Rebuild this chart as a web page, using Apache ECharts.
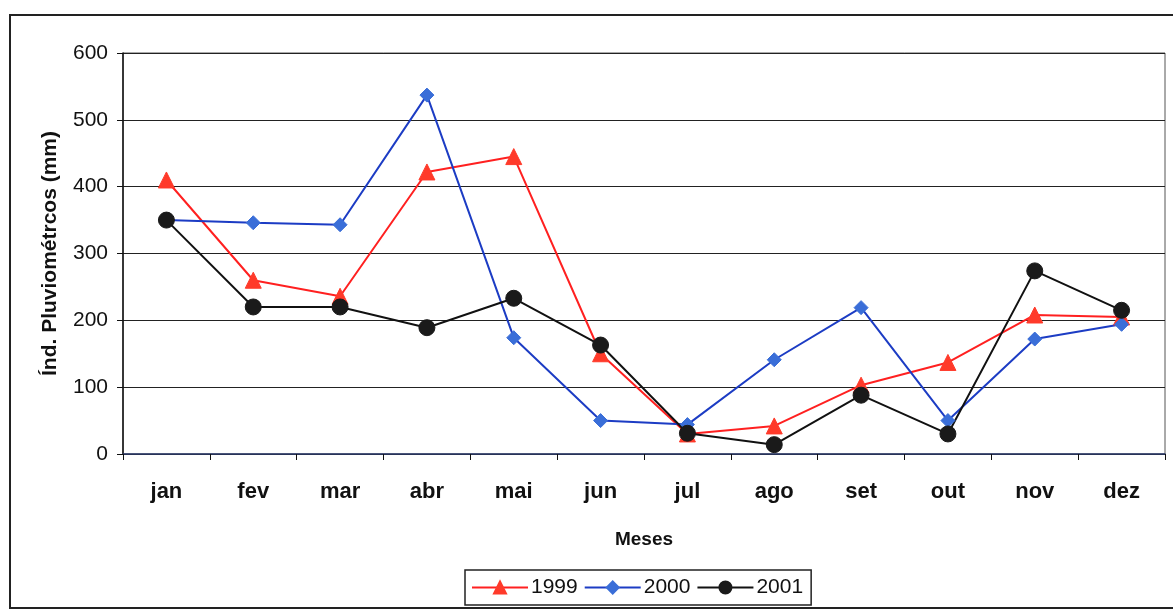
<!DOCTYPE html>
<html>
<head>
<meta charset="utf-8">
<script src="https://cdn.jsdelivr.net/npm/echarts@6/dist/echarts.min.js"></script>
<style>
  html, body { margin: 0; padding: 0; background: #fff; }
  #chart { width: 1173px; height: 612px; }
</style>
</head>
<body>
<div id="chart"></div>
<script>
// Monthly rainfall index (mm), three years
const months = ['jan', 'fev', 'mar', 'abr', 'mai', 'jun', 'jul', 'ago', 'set', 'out', 'nov', 'dez'];
const rain1999 = [410, 260, 236, 422, 445, 150, 30, 42, 103, 137, 208, 205];
const rain2000 = [350, 346, 343, 537, 174, 50, 44, 141, 219, 50, 172, 194];
const rain2001 = [350, 220, 220, 189, 233, 163, 31, 14, 88, 30, 274, 215];
const yTicks = [0, 100, 200, 300, 400, 500, 600];

const FONT = '"Liberation Sans", Arial, sans-serif';
const chart = echarts.init(document.getElementById('chart'), null, { renderer: 'canvas' });

function lineSeries(name, data, color, markerColor, symbol, size) {
  return {
    name: name,
    type: 'line',
    data: data,
    symbol: symbol,
    symbolSize: size,
    showSymbol: true,
    lineStyle: { color: color, width: 2 },
    itemStyle: { color: markerColor, borderColor: markerColor, borderWidth: 1 },
    emphasis: { disabled: true },
    z: 3
  };
}

chart.setOption({
  animation: false,
  backgroundColor: '#fff',
  graphic: [{
    type: 'rect',
    shape: { x: 10, y: 15, width: 1200, height: 593 },
    style: { fill: 'none', stroke: '#222', lineWidth: 2 },
    z: -1
  }],
  grid: {
    left: 123, right: 8, top: 53, bottom: 158,
    show: true, borderColor: '#555', borderWidth: 1, backgroundColor: 'transparent'
  },
  legend: {
    bottom: 7,
    left: 465,
    itemGap: 6,
    itemWidth: 56,
    itemHeight: 15,
    padding: [7, 8, 7, 6],
    borderColor: '#222',
    borderWidth: 1.5,
    textStyle: { fontFamily: FONT, fontSize: 21, color: '#111', padding: [0, 0, 0, -2] },
    data: ['1999', '2000', '2001']
  },
  xAxis: {
    type: 'category',
    data: months,
    boundaryGap: true,
    name: 'Meses',
    nameLocation: 'middle',
    nameGap: 76,
    nameTextStyle: { fontFamily: FONT, fontSize: 19, fontWeight: 'bold', color: '#111' },
    axisLine: { lineStyle: { color: '#2b3a6b', width: 1.5 } },
    axisTick: { show: true, alignWithLabel: false, length: 6, lineStyle: { color: '#111' } },
    axisLabel: { fontFamily: FONT, fontSize: 22, fontWeight: 'bold', color: '#111', margin: 27 },
    splitLine: { show: false }
  },
  yAxis: {
    type: 'value',
    min: 0, max: 600, interval: 100,
    name: 'Índ. Pluviométrcos (mm)',
    nameLocation: 'middle',
    nameGap: 62,
    nameRotate: 90,
    nameTextStyle: { fontFamily: FONT, fontSize: 21, fontWeight: 'bold', color: '#111' },
    axisLine: { show: true, lineStyle: { color: '#111', width: 1.5 } },
    axisTick: { show: true, length: 6, lineStyle: { color: '#111' } },
    axisLabel: {
      fontFamily: FONT, fontSize: 21, color: '#111', margin: 15,
      formatter: v => (yTicks.indexOf(v) >= 0 ? String(v) : '')
    },
    splitLine: { show: true, lineStyle: { color: '#222', width: 1.2 } }
  },
  series: [
    lineSeries('1999', rain1999, '#ff2020', '#ff3a2a', 'triangle', 16),
    lineSeries('2000', rain2000, '#1c3cc4', '#3a6ed8', 'diamond', 14),
    lineSeries('2001', rain2001, '#111111', '#1a1a1a', 'circle', 16)
  ]
});
</script>
</body>
</html>
